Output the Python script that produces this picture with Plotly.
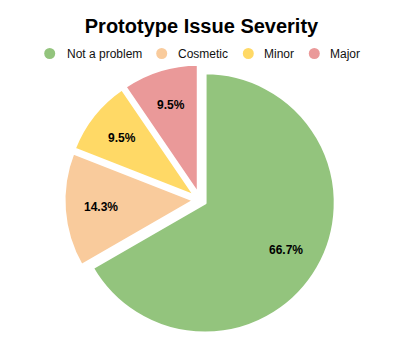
import math
import plotly.graph_objects as go

# Issue counts by severity
categories = ["Not a problem", "Cosmetic", "Minor", "Major"]
counts = [14, 3, 2, 2]
colors = ["#93C47D", "#F9CB9C", "#FFD966", "#EA9999"]
pull = 0.045

W, H = 403, 348
ML, MR, MT, MB = 10, 13, 64, 12
plot_w = W - ML - MR
plot_h = H - MT - MB


def px_x(px):
    return (px - ML) / plot_w


def px_y(py):
    return (H - MB - py) / plot_h


fig = go.Figure()

fig.add_trace(go.Pie(
    labels=categories,
    values=counts,
    sort=False,
    direction="clockwise",
    rotation=0,
    pull=[pull] * len(counts),
    marker=dict(colors=colors, line=dict(color="white", width=3)),
    textinfo="none",
    showlegend=False,
    hoverinfo="label+value+percent",
))

# Percentage labels placed along each slice's bisector
total = sum(counts)
radius = min(plot_w, plot_h) / (2 + 2 * pull)
label_r = radius * (0.72 + pull)
annotations = []
start = 0.0
for c in counts:
    span = c / total * 360.0
    mid = math.radians(start + span / 2)
    start += span
    annotations.append(dict(
        x=0.5 + label_r * math.sin(mid) / plot_w,
        y=0.5 + label_r * math.cos(mid) / plot_h,
        xref="paper", yref="paper",
        text=f"<b>{c / total * 100:.1f}%</b>",
        showarrow=False,
        xanchor="center", yanchor="middle",
        font=dict(family="Arial", size=12, color="black"),
    ))

# Legend row: circle markers with names
legend_y = 53.5
marker_x = [49.7, 161.7, 248.3, 314.3]
text_x = [65, 176, 262, 328]
shapes = []
for name, col, mx, tx in zip(categories, colors, marker_x, text_x):
    shapes.append(dict(
        type="circle", xref="paper", yref="paper",
        xsizemode="pixel", ysizemode="pixel",
        xanchor=px_x(mx), yanchor=px_y(legend_y),
        x0=-5.5, x1=5.5, y0=-5.5, y1=5.5,
        fillcolor=col, line=dict(width=0),
    ))
    annotations.append(dict(
        x=px_x(tx), y=px_y(legend_y),
        xref="paper", yref="paper",
        text=name, showarrow=False,
        xanchor="left", yanchor="middle",
        font=dict(family="Arial", size=12, color="#111111"),
    ))

fig.update_layout(
    width=W,
    height=H,
    margin=dict(l=ML, r=MR, t=MT, b=MB),
    paper_bgcolor="white",
    plot_bgcolor="white",
    title=dict(
        text="<b>Prototype Issue Severity</b>",
        x=0.5, xanchor="center",
        y=1 - 26 / H, yanchor="middle",
        font=dict(family="Arial", size=20, color="black"),
    ),
    annotations=annotations,
    shapes=shapes,
)

fig.write_html("out.html")
